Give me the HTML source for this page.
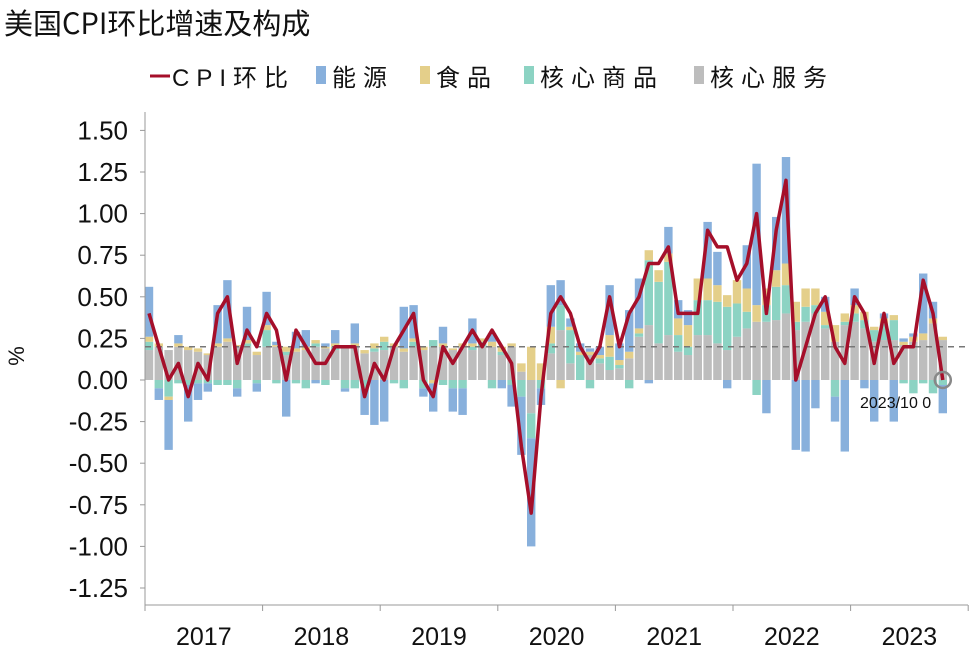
<!DOCTYPE html>
<html><head><meta charset="utf-8">
<style>
html,body{margin:0;padding:0;background:#fff;}
body{width:974px;height:654px;overflow:hidden;font-family:"Liberation Sans","Noto Sans CJK SC",sans-serif;}
</style></head>
<body>
<svg id="chart" width="974" height="654" xmlns="http://www.w3.org/2000/svg">
<text x="4" y="34" font-size="29" font-family="'Noto Sans CJK SC',sans-serif" fill="#111">美国CPI环比增速及构成</text>
<g id="legend" font-size="24" letter-spacing="7" font-family="'Liberation Sans','Noto Sans CJK SC',sans-serif" fill="#111">
  <g><line x1="150" y1="76" x2="170" y2="76" stroke="#a50f2a" stroke-width="3"/><text x="172" y="86">CPI环比</text></g>
  <g><rect x="316" y="66" width="10" height="18" fill="#88b0dc"/><text x="332" y="86">能源</text></g>
  <g><rect x="420" y="66" width="10" height="18" fill="#e4cf8a"/><text x="436" y="86">食品</text></g>
  <g><rect x="524" y="66" width="10" height="18" fill="#8cd3c3"/><text x="540" y="86">核心商品</text></g>
  <g><rect x="694" y="66" width="10" height="18" fill="#bdbdbd"/><text x="710" y="86">核心服务</text></g>
</g>
<text transform="translate(24,356) rotate(-90)" font-size="22" text-anchor="middle" fill="#111">%</text>
<g id="bars"></g>
<g id="axes"></g>
<line id="refline" stroke="#777" stroke-width="1.5" stroke-dasharray="6,5"/>
<path id="cpiLine" fill="none" stroke="#a50f2a" stroke-width="3.5" stroke-linejoin="round"/>
<g id="annot"></g>
</svg>
<script>
const years = ["2017","2018","2019","2020","2021","2022","2023"];
const yTicks = [1.5,1.25,1.0,0.75,0.5,0.25,0,-0.25,-0.5,-0.75,-1.0,-1.25];
const cpi = [.4,.2,0,.1,-.1,.1,0,.4,.5,.1,.3,.2,
 .4,.3,0,.3,.2,.1,.1,.2,.2,.2,-.1,.1,
 0,.2,.3,.4,0,-.1,.2,.1,.2,.3,.2,.3,
 .2,.1,-.4,-.8,-.1,.4,.5,.4,.2,.1,.2,.5,
 .2,.4,.5,.7,.7,.8,.4,.4,.4,.9,.8,.8,
 .6,.7,1.0,.4,.9,1.2,0,.2,.4,.5,.2,.1,
 .5,.4,.1,.4,.1,.2,.2,.6,.4,0];
const services = [.18,.2,.18,.2,.18,.17,.15,.2,.23,.2,.2,.15,
 .2,.2,.15,.17,.18,.2,.19,.18,.19,.2,.16,.17,
 .18,.2,.17,.2,.18,.2,.2,.18,.2,.18,.2,.2,
 .15,.2,.05,-.2,0,.16,.3,.1,0,.15,.1,.06,
 .07,.13,.26,.33,.22,.27,.17,.15,.27,.27,.22,.18,
 .26,.31,.35,.35,.36,.4,.3,.35,.4,.31,.23,.33,
 .35,.31,.23,.24,.24,.21,.23,.24,.34,.24];
const goods = [.05,-.05,-.1,-.02,-.03,-.02,-.02,-.03,-.03,-.05,.02,-.02,
 .1,-.02,.02,-.02,-.05,.02,-.03,.02,-.05,-.05,-.05,.02,
 .05,-.02,-.05,.03,-.05,.04,-.03,-.05,-.05,.02,.03,-.05,
 .02,-.03,-.1,-.15,-.05,.06,.15,.2,.15,-.05,.03,.08,
 .02,-.05,.02,.39,.37,.44,.1,.05,.21,.21,.25,.26,
 .2,.1,-.09,.1,.2,.17,.05,.09,.05,.02,-.1,.02,
 .05,.05,.07,.1,.12,-.02,-.08,-.02,-.08,-.03];
const food = [.03,.02,-.02,.02,.02,.02,.01,.02,.02,.01,.02,.02,
 .03,.01,.03,.02,.02,.02,.01,.02,.01,.02,.02,.03,
 .03,.02,.02,.02,.02,-.02,.02,.01,.02,.02,.02,.03,
 .03,.02,.05,.2,.1,.1,-.05,.02,.02,.02,.02,.13,
 .03,.04,.03,.06,.07,.05,.1,.13,.13,.13,.1,.07,
 .14,.14,.1,.1,.1,.13,.12,.11,.1,.08,.1,.05,
 .05,.05,.02,.03,.03,.02,.03,.04,.03,.02];
const energy = [.3,-.07,-.3,.05,-.22,-.1,-.05,.23,.35,-.05,.2,-.05,
 .2,.02,-.22,.1,.1,-.02,.02,.08,-.02,.12,-.16,-.27,
 -.25,0,.25,.2,-.05,-.17,.1,-.14,-.16,.15,0,.05,
 -.05,-.13,-.35,-.65,-.1,.25,.15,.05,.05,.02,.05,.3,
 .1,.25,.3,-.02,0,.16,.11,.09,0,.34,.2,-.05,
 0,.26,.85,-.2,.32,.64,-.42,-.43,-.17,.09,-.15,-.43,
 .1,-.05,-.25,.03,-.25,.02,.02,.36,.1,-.17];

const NS="http://www.w3.org/2000/svg";
const X0=145, MW=9.8, Y0=380, PX=166.4;
const xCenter = i => X0 + 4 + MW*i;
const yScale = v => Y0 - v*PX;
function mk(tag, attrs, parent){const e=document.createElementNS(NS,tag);for(const k in attrs)e.setAttribute(k,attrs[k]);parent.appendChild(e);return e;}

const bars=document.getElementById('bars');
const series=[["core-services",services,"#bdbdbd"],["core-goods",goods,"#8cd3c3"],["food",food,"#e4cf8a"],["energy",energy,"#88b0dc"]];
for(let i=0;i<cpi.length;i++){
  let pos=0,neg=0;
  for(const [nm,arr,col] of series){
    const v=arr[i]; if(v===0) continue;
    let a,b;
    if(v>0){a=pos;b=pos+v;pos=b;}else{a=neg;b=neg+v;neg=b;}
    const y1=yScale(Math.max(a,b)), y2=yScale(Math.min(a,b));
    const r=mk('rect',{x:xCenter(i)-4.2,y:y1,width:8.4,height:Math.max(0.5,y2-y1),fill:col},bars);
    
    
  }
}
const axes=document.getElementById('axes');
const ya=mk('line',{x1:X0,y1:112,x2:X0,y2:605,stroke:"#999","stroke-width":1},axes);


const xa=mk('line',{x1:X0,y1:605,x2:968,y2:605,stroke:"#999","stroke-width":1},axes);


for(const t of yTicks){
  const y=yScale(t);
  mk('line',{x1:X0-5,y1:y,x2:X0,y2:y,stroke:"#999"},axes);
  const tx=mk('text',{x:128,y:y+9,"font-size":26,"text-anchor":"end",fill:"#111"},axes);
  tx.textContent=t.toFixed(2);
  
  
}
years.forEach((yr,k)=>{
  const xs=X0+MW*12*k;
  mk('line',{x1:xs,y1:605,x2:xs,y2:611,stroke:"#999"},axes);
  const tx=mk('text',{x:xs+MW*6,y:645,"font-size":25,"text-anchor":"middle",fill:"#111"},axes);
  tx.textContent=yr;
  
  
});
mk('line',{x1:X0+MW*12*7,y1:605,x2:X0+MW*12*7,y2:611,stroke:"#999"},axes);
const rl=document.getElementById('refline');
rl.setAttribute('x1',X0);rl.setAttribute('x2',965);rl.setAttribute('y1',yScale(0.2));rl.setAttribute('y2',yScale(0.2));
document.getElementById('cpiLine').setAttribute('d',cpi.map((v,i)=>(i?'L':'M')+xCenter(i).toFixed(1)+','+yScale(v).toFixed(1)).join(''));
const an=document.getElementById('annot');
const last=cpi.length-1;
const c=mk('circle',{cx:xCenter(last),cy:yScale(cpi[last]),r:8,fill:"none",stroke:"#888","stroke-width":2.5},an);


const at=mk('text',{x:860,y:408,"font-size":16,fill:"#111"},an);
at.textContent="2023/10 "+cpi[last];


</script>
</body></html>
